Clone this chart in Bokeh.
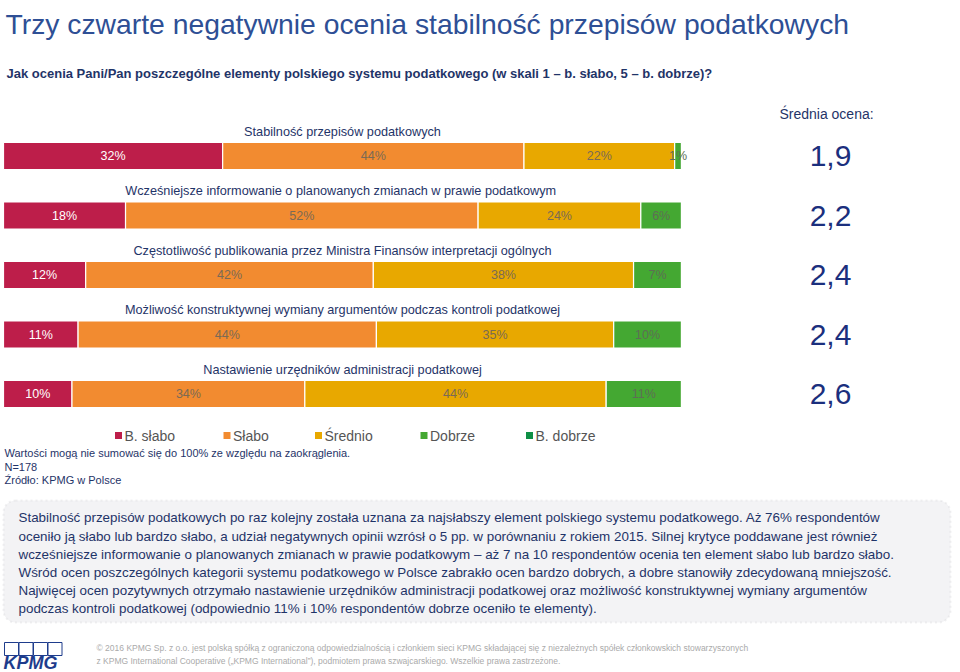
from bokeh.plotting import figure
from bokeh.models import Range1d, BoxAnnotation, ColumnDataSource
from bokeh.core.properties import value
from bokeh.embed import file_html
from bokeh.resources import INLINE

# ---------------- data ----------------
categories = [
    "Stabilność przepisów podatkowych",
    "Wcześniejsze informowanie o planowanych zmianach  w prawie podatkowym",
    "Częstotliwość publikowania przez Ministra Finansów interpretacji ogólnych",
    "Możliwość konstruktywnej wymiany argumentów podczas kontroli podatkowej",
    "Nastawienie urzędników administracji podatkowej",
]
series_names = ["B. słabo", "Słabo", "Średnio", "Dobrze", "B. dobrze"]
b_slabo = [32, 18, 12, 11, 10]
slabo = [44, 52, 42, 44, 34]
srednio = [22, 24, 38, 35, 44]
dobrze = [1, 6, 7, 10, 11]
b_dobrze = [0, 0, 0, 0, 0]
srednia = [1.9, 2.2, 2.4, 2.4, 2.6]

title = "Trzy czwarte negatywnie ocenia stabilność przepisów podatkowych"
subtitle = "Jak ocenia Pani/Pan poszczególne elementy polskiego systemu podatkowego (w skali 1 – b. słabo, 5 – b. dobrze)?"
avg_header = "Średnia ocena:"
notes = [
    "Wartości mogą nie sumować się do 100% ze względu na zaokrąglenia.",
    "N=178",
    "Źródło: KPMG w Polsce",
]
paragraph = [
    "Stabilność przepisów podatkowych po raz kolejny została uznana za najsłabszy element polskiego systemu podatkowego. Aż 76% respondentów",
    "oceniło ją słabo lub bardzo słabo, a udział negatywnych opinii wzrósł o 5 pp. w porównaniu z rokiem 2015. Silnej krytyce poddawane jest również",
    "wcześniejsze informowanie o planowanych zmianach w prawie podatkowym – aż 7 na 10 respondentów ocenia ten element słabo lub bardzo słabo.",
    "Wśród ocen poszczególnych kategorii systemu podatkowego w Polsce zabrakło ocen bardzo dobrych, a dobre stanowiły zdecydowaną mniejszość.",
    "Najwięcej ocen pozytywnych otrzymało nastawienie urzędników administracji podatkowej oraz możliwość konstruktywnej wymiany argumentów",
    "podczas kontroli podatkowej (odpowiednio 11% i 10% respondentów dobrze oceniło te elementy).",
]
footer = [
    "© 2016 KPMG Sp. z o.o. jest polską spółką z ograniczoną odpowiedzialnością i członkiem sieci KPMG składającej się z niezależnych spółek członkowskich stowarzyszonych",
    "z KPMG International Cooperative („KPMG International”), podmiotem prawa szwajcarskiego. Wszelkie prawa zastrzeżone.",
]

# ---------------- styles ----------------
colors = ["#BD1E4A", "#F28B30", "#E8A800", "#44A832", "#0E8F45"]
label_colors = ["#FFFFFF", "#7A6A55", "#7A6A55", "#5E6E55", "#5E6E55"]
NAVY = "#1F3468"
TITLE_BLUE = "#2E4F95"
AVG_BLUE = "#1B2F7D"
FONT = "Liberation Sans"

W, H = 960, 672
# bar scale: 0% at x=3, 100% at x=681
BAR_LEFT, BAR_PX = 3.0, 6.78
# rows: first centre at y=155.5, step 59.5
ROW0, ROW_STEP = 155.5, 59.5

p = figure(width=W, height=H, x_range=Range1d(0, W), y_range=Range1d(H, 0),
           output_backend="svg", toolbar_location=None, min_border=0,
           x_axis_location=None, y_axis_location=None)
p.grid.visible = False
p.outline_line_color = None
p.background_fill_color = "white"
p.border_fill_color = "white"

p.extra_x_ranges = {"pct": Range1d((0 - BAR_LEFT) / BAR_PX, (W - BAR_LEFT) / BAR_PX)}
p.extra_y_ranges = {"row": Range1d((H - ROW0) / ROW_STEP, (0 - ROW0) / ROW_STEP)}


def txt(x, y, s, size, color, font=FONT, align="left", baseline="middle", style="normal", **kw):
    p.text(x=x, y=y, text=s, text_font=value(font), text_font_size=size,
           text_color=color, text_align=align, text_baseline=baseline,
           text_font_style=style, **kw)


# ---------------- bars ----------------
series = [b_slabo, slabo, srednio, dobrze, b_dobrze]
rows = list(range(len(categories)))
totals = [sum(s[i] for s in series) for i in rows]
cum = [0.0] * len(rows)
lab_x, lab_y, lab_t, lab_c = [], [], [], []
for k, s in enumerate(series):
    left = [cum[i] for i in rows]
    right = [cum[i] + s[i] * 100.0 / totals[i] for i in rows]
    src = ColumnDataSource(dict(row=rows, left=left, right=right))
    p.hbar(y="row", left="left", right="right", height=27 / ROW_STEP, source=src,
           fill_color=colors[k], line_color="white", line_width=1.2,
           x_range_name="pct", y_range_name="row")
    for i in rows:
        if s[i] > 0:
            lab_x.append((left[i] + right[i]) / 2)
            lab_y.append(i)
            lab_t.append(f"{s[i]}%")
            lab_c.append(label_colors[k])
    cum = right

p.text(x=lab_x, y=lab_y, text=lab_t, text_color=lab_c, text_font=value(FONT),
       text_font_size="12.5px", text_align="center", text_baseline="middle",
       x_range_name="pct", y_range_name="row")

# category labels above bars
p.text(x=[50] * len(rows), y=[i - 24.5 / ROW_STEP for i in rows], text=categories,
       text_color=NAVY, text_font=value(FONT), text_font_size="12.7px",
       text_align="center", text_baseline="middle",
       x_range_name="pct", y_range_name="row")

# averages
p.text(x=[830] * len(rows), y=rows, text=[f"{v:.1f}".replace(".", ",") for v in srednia],
       text_color=AVG_BLUE, text_font=value(FONT), text_font_size="30px",
       text_align="center", text_baseline="middle", y_range_name="row")
txt([826], [113], [avg_header], "14px", NAVY, align="center")

# ---------------- titles ----------------
txt([5], [23], [title], "28.3px", TITLE_BLUE)
txt([6], [73], [subtitle], "13px", NAVY, style="bold")

# ---------------- legend (manual, one entry per series) ----------------
legend_x = [118, 226.5, 318, 423.5, 529]
p.scatter(x=legend_x, y=[435] * 5, marker="square", size=7, fill_color=colors, line_color=None)
txt([x + 6 for x in legend_x], [435] * 5, series_names, "14px", "#555555")

# notes
txt([4] * 3, [452, 466, 479], notes, "11px", NAVY)

# ---------------- text box ----------------
box = BoxAnnotation(left=3, right=950, top=500, bottom=622, fill_color="#F3F3F5", fill_alpha=1,
                    line_color="#CFCFD4", line_width=2, line_dash="2 3",
                    border_radius=12, level="underlay")
p.add_layout(box)
txt([18] * len(paragraph), [517, 535.5, 553.5, 571.5, 589.5, 607.5], paragraph, "13.4px", NAVY)

# ---------------- footer ----------------
KPMG_BLUE = "#1E3C8C"
p.quad(left=[4, 18.5, 33, 47.5], right=[18, 32.5, 47, 61.5], top=[642] * 4, bottom=[655] * 4,
       fill_color=None, line_color=KPMG_BLUE, line_width=1)
txt([3], [662], ["KPMG"], "18px", KPMG_BLUE, style="bold italic")
txt([96, 96], [647, 660], footer, "8.5px", "#AAAAAA")

open("out.html", "w").write(file_html(p, INLINE))
